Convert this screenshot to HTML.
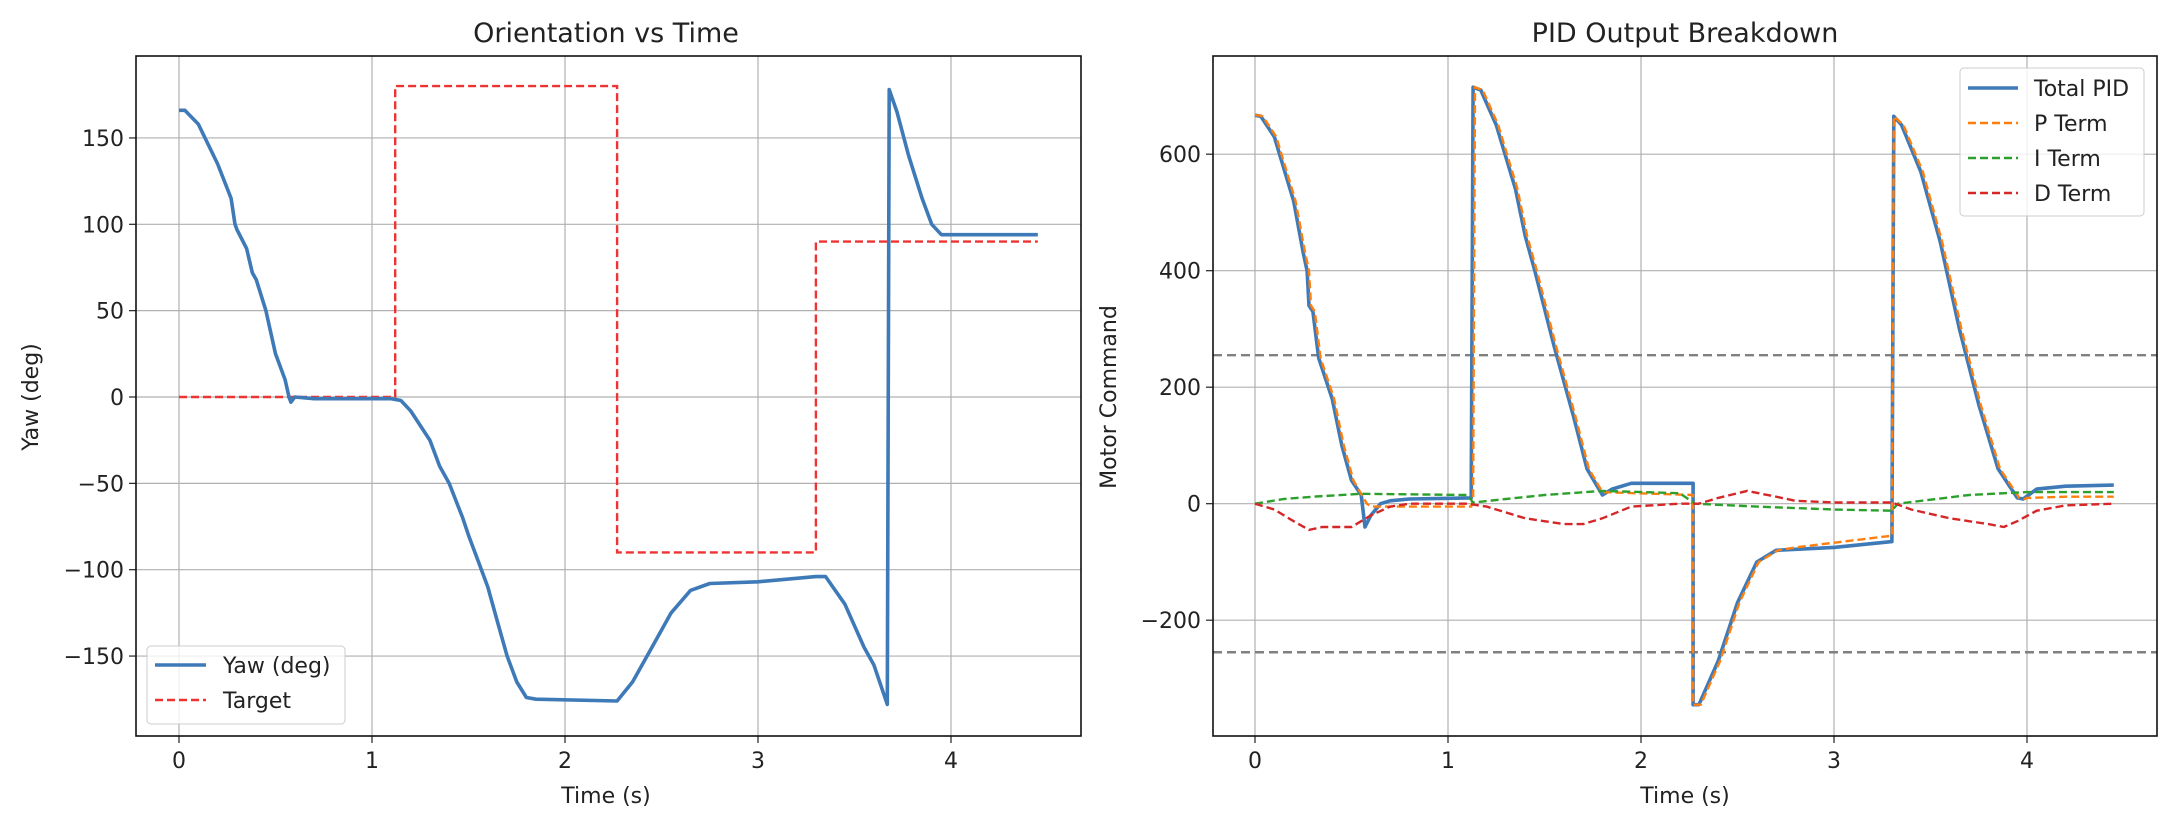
<!DOCTYPE html>
<html><head><meta charset="utf-8"><style>
body{margin:0;background:#fff;}
svg{display:block;font-family:"DejaVu Sans","Liberation Sans",sans-serif;}
</style></head><body>
<svg id="s" width="2182" height="834" xmlns="http://www.w3.org/2000/svg">
<rect width="2182" height="834" fill="#fff"/>
<g id="g"></g>
<text x="606" y="42" font-size="27" text-anchor="middle" fill="#222">Orientation vs Time</text>
<text x="1685" y="42" font-size="27" text-anchor="middle" fill="#222">PID Output Breakdown</text>
<text x="606" y="803" font-size="22" text-anchor="middle" fill="#222">Time (s)</text>
<text x="1685" y="803" font-size="22" text-anchor="middle" fill="#222">Time (s)</text>
<text transform="translate(38,397) rotate(-90)" font-size="22" text-anchor="middle" fill="#222">Yaw (deg)</text>
<text transform="translate(1116,397) rotate(-90)" font-size="22" text-anchor="middle" fill="#222">Motor Command</text>
</svg>
<script>
var NS="http://www.w3.org/2000/svg",g=document.getElementById("g");
function el(t,a,txt){var e=document.createElementNS(NS,t);for(var k in a)e.setAttribute(k,a[k]);if(txt!==undefined)e.textContent=txt;g.appendChild(e);return e;}
function poly(pts,X,Y,st){var d=pts.map(function(p){return X(p[0]).toFixed(1)+","+Y(p[1]).toFixed(1)}).join(" ");var a={points:d,fill:"none"};for(var k in st)a[k]=st[k];el("polyline",a);}
var LX=function(t){return 179+193*t},LY=function(v){return 397-1.727*v};
var L={x0:136,x1:1081,y0:56,y1:736};
var RX=function(t){return 1255+193*t},RY=function(v){return 503.7-0.5825*v};
var R={x0:1213,x1:2157,y0:56,y1:736};
function axes(A,X,Y,yt){
 for(var t=0;t<=4;t++){el("line",{x1:X(t),x2:X(t),y1:A.y0,y2:A.y1,stroke:"#b0b0b0","stroke-width":1.2});
  el("line",{x1:X(t),x2:X(t),y1:A.y1,y2:A.y1+7,stroke:"#222","stroke-width":1.2});
  el("text",{x:X(t),y:A.y1+32,"font-size":22,"text-anchor":"middle",fill:"#222"},""+t);}
 yt.forEach(function(v){el("line",{x1:A.x0,x2:A.x1,y1:Y(v),y2:Y(v),stroke:"#b0b0b0","stroke-width":1.2});
  el("line",{x1:A.x0-7,x2:A.x0,y1:Y(v),y2:Y(v),stroke:"#222","stroke-width":1.2});
  el("text",{x:A.x0-12,y:Y(v)+8,"font-size":22,"text-anchor":"end",fill:"#222"},(v<0?"\u2212"+(-v):""+v));});
}
axes(L,LX,LY,[-150,-100,-50,0,50,100,150]);
axes(R,RX,RY,[-200,0,200,400,600]);
poly([[0,0],[1.12,0],[1.12,180],[2.27,180],[2.27,-90],[3.3,-90],[3.3,90],[4.45,90]],LX,LY,{stroke:"#ee3333","stroke-width":2.4,"stroke-dasharray":"8,4"});
poly([[0,166],[0.03,166],[0.1,158],[0.2,135],[0.27,115],[0.29,100],[0.3,97],[0.35,86],[0.38,72],[0.4,68],[0.45,50],[0.5,25],[0.55,10],[0.57,0],[0.58,-3],[0.6,0],[0.7,-1],[1.1,-1],[1.15,-2],[1.2,-8],[1.3,-25],[1.35,-40],[1.4,-50],[1.47,-70],[1.5,-80],[1.55,-95],[1.6,-110],[1.65,-130],[1.7,-150],[1.75,-165],[1.8,-174],[1.85,-175],[2.27,-176],[2.35,-165],[2.45,-145],[2.55,-125],[2.65,-112],[2.75,-108],[3,-107],[3.3,-104],[3.35,-104],[3.45,-120],[3.55,-145],[3.6,-155],[3.67,-178],[3.68,178],[3.72,165],[3.78,140],[3.85,115],[3.9,100],[3.95,94],[4.45,94]],LX,LY,{stroke:"#3f7ab8","stroke-width":3.6,"stroke-linejoin":"round"});
[255,-255].forEach(function(v){el("line",{x1:R.x0,x2:R.x1,y1:RY(v),y2:RY(v),stroke:"#808080","stroke-width":2.4,"stroke-dasharray":"9,5"});});
var tot=[[0,667],[0.03,665],[0.1,630],[0.2,520],[0.25,430],[0.27,400],[0.28,340],[0.3,330],[0.33,250],[0.4,180],[0.45,100],[0.5,40],[0.55,15],[0.57,-40],[0.6,-20],[0.65,0],[0.7,5],[0.8,8],[1.12,10],[1.13,715],[1.17,710],[1.25,650],[1.35,540],[1.4,460],[1.45,400],[1.55,270],[1.65,150],[1.72,60],[1.8,15],[1.85,25],[1.95,35],[2.27,35],[2.27,-345],[2.3,-345],[2.4,-270],[2.5,-170],[2.6,-100],[2.7,-80],[3,-75],[3.3,-65],[3.31,665],[3.35,650],[3.45,570],[3.55,450],[3.65,300],[3.75,170],[3.85,60],[3.95,10],[3.98,8],[4.05,25],[4.2,30],[4.45,32]];
poly(tot,RX,RY,{stroke:"#3f7ab8","stroke-width":3.6,"stroke-linejoin":"round"});
var P=tot.map(function(p){return [p[0]+0.01,p[1]]});
P=[[0,667]].concat(P.filter(function(p){return p[0]<0.56}),[[0.58,0],[0.6,-5],[1.12,-5]],P.filter(function(p){return p[0]>1.13&&p[0]<1.8}),[[1.8,20],[2.27,15],[2.27,-345]],P.filter(function(p){return p[0]>2.3&&p[0]<2.8}),[[2.8,-75],[3.3,-55],[3.31,665]],P.filter(function(p){return p[0]>3.33&&p[0]<4}),[[4.0,10],[4.2,12],[4.45,12]]);
poly(P,RX,RY,{stroke:"#ff7f0e","stroke-width":2.4,"stroke-dasharray":"8,4"});
poly([[0,0],[0.15,8],[0.3,12],[0.55,17],[1.1,15],[1.13,2],[1.3,8],[1.5,15],[1.8,22],[2.2,18],[2.28,0],[2.6,-5],[3,-10],[3.3,-12],[3.33,0],[3.7,15],[4.0,20],[4.45,20]],RX,RY,{stroke:"#2ca02c","stroke-width":2.4,"stroke-dasharray":"8,4"});
poly([[0,0],[0.1,-10],[0.2,-30],[0.28,-45],[0.35,-40],[0.5,-40],[0.6,-20],[0.7,-5],[0.8,0],[1.1,0],[1.2,-5],[1.4,-25],[1.6,-35],[1.7,-35],[1.8,-25],[1.95,-5],[2.2,0],[2.3,0],[2.4,10],[2.55,22],[2.7,12],[2.8,5],[3,2],[3.3,2],[3.4,-10],[3.6,-25],[3.8,-35],[3.88,-40],[3.95,-30],[4.05,-12],[4.2,-3],[4.45,0]],RX,RY,{stroke:"#d62728","stroke-width":2.4,"stroke-dasharray":"8,4"});
[L,R].forEach(function(A){el("rect",{x:A.x0,y:A.y0,width:A.x1-A.x0,height:A.y1-A.y0,fill:"none",stroke:"#111","stroke-width":1.6});});
el("rect",{x:147,y:646,width:198,height:78,rx:4,fill:"#fff","fill-opacity":0.8,stroke:"#ccc"});
el("line",{x1:155,x2:206,y1:665,y2:665,stroke:"#3f7ab8","stroke-width":3.6});
el("text",{x:223,y:673,"font-size":22,fill:"#222"},"Yaw (deg)");
el("line",{x1:155,x2:206,y1:700,y2:700,stroke:"#ee3333","stroke-width":2.4,"stroke-dasharray":"8,4"});
el("text",{x:223,y:708,"font-size":22,fill:"#222"},"Target");
el("rect",{x:1960,y:68,width:184,height:148,rx:4,fill:"#fff","fill-opacity":0.8,stroke:"#ccc"});
[["Total PID","#3f7ab8",0],["P Term","#ff7f0e",1],["I Term","#2ca02c",1],["D Term","#d62728",1]].forEach(function(it,i){var y=88+35*i;
 var a={x1:1968,x2:2018,y1:y,y2:y,stroke:it[1],"stroke-width":it[2]?2.4:3.6};if(it[2])a["stroke-dasharray"]="8,4";el("line",a);
 el("text",{x:2034,y:y+8,"font-size":22,fill:"#222"},it[0]);});
</script>
</body></html>
